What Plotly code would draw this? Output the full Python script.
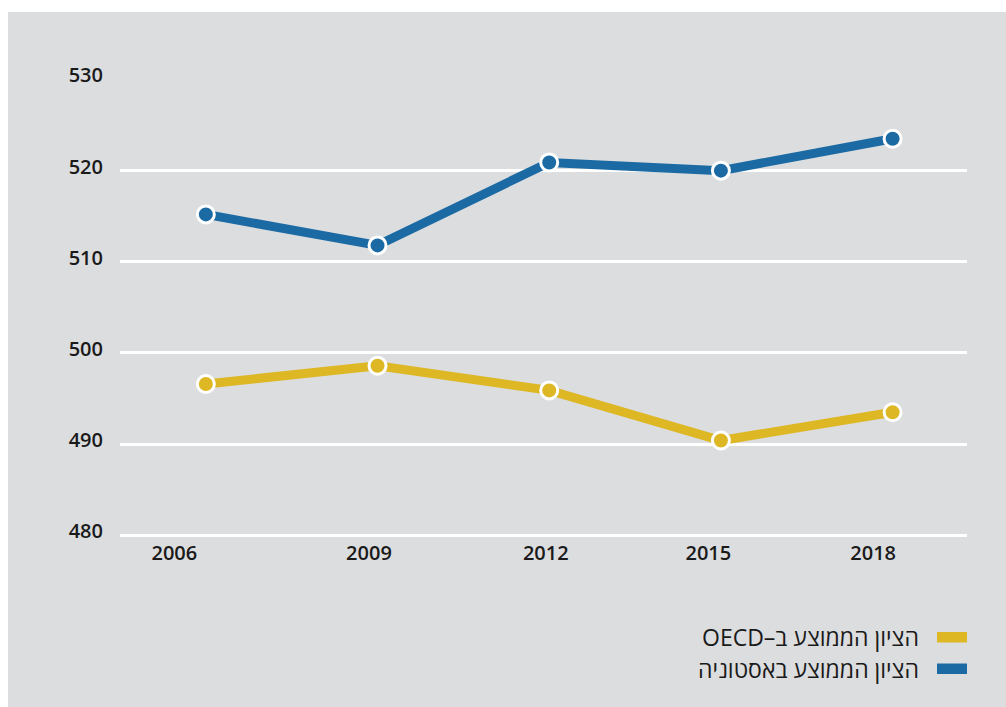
import plotly.graph_objects as go

# PISA average scores
years = [2006, 2009, 2012, 2015, 2018]
estonia = [515.2, 511.8, 520.9, 520.0, 523.5]
oecd = [496.6, 498.6, 495.9, 490.4, 493.5]
y_ticks = [480, 490, 500, 510, 520, 530]
name_oecd = "הציון הממוצע ב–OECD"
name_estonia = "הציון הממוצע באסטוניה"

# per-label horizontal nudge of the year labels (in axis units)
label_nudge = [-0.55, -0.15, -0.06, -0.22, -0.34]

BLUE = "#1b6aa4"
YELLOW = "#ddb724"
BG = "#dcdddf"
INK = "#1a1a1a"
FONT = "Open Sans, Liberation Sans, DejaVu Sans"

W, H = 1006, 707
Y_LO, Y_HI = 479.6, 530.05
L, R, T, B = 120, 39, 79, 168
PW, PH = W - L - R, H - T - B


def px_x(p):
    return (p - L) / PW


def px_y(p):
    return (H - B - p) / PH


def rtl(s):
    return "\u202b" + s + "\u202c"


fig = go.Figure()
for vals, color, name in [(oecd, YELLOW, name_oecd), (estonia, BLUE, name_estonia)]:
    fig.add_trace(go.Scatter(
        x=years, y=vals, mode="lines+markers", name=name, showlegend=False,
        line=dict(color=color, width=9),
        marker=dict(color=color, size=17, line=dict(color="white", width=3)),
        hoverinfo="skip",
    ))

shapes = [
    dict(type="rect", xref="paper", yref="paper", layer="below",
         x0=px_x(8), x1=px_x(W), y0=px_y(H), y1=px_y(12),
         fillcolor=BG, line=dict(width=0)),
]
annotations = []
# legend: swatch on the right, right-to-left text on its left
for i, (color, name) in enumerate([(YELLOW, name_oecd), (BLUE, name_estonia)]):
    top = 632 + i * 31.5
    shapes.append(dict(type="rect", xref="paper", yref="paper",
                       x0=px_x(937), x1=px_x(967), y0=px_y(top + 10.5), y1=px_y(top),
                       fillcolor=color, line=dict(width=0)))
    annotations.append(dict(xref="paper", yref="paper", x=px_x(921), y=px_y(top + 5),
                            xanchor="right", yanchor="middle", showarrow=False,
                            text=rtl(name),
                            font=dict(family=FONT, size=23, color=INK)))

fig.update_layout(
    width=W, height=H,
    margin=dict(l=L, r=R, t=T, b=B, pad=0),
    paper_bgcolor="white", plot_bgcolor=BG,
    showlegend=False,
    shapes=shapes, annotations=annotations,
    font=dict(family=FONT, color=INK),
)
fig.update_xaxes(
    range=[2004.5, 2019.3], showgrid=False, zeroline=False, showline=False,
    tickmode="array", tickvals=[y + d for y, d in zip(years, label_nudge)],
    ticktext=[str(y) for y in years], ticks="",
    tickfont=dict(size=20, weight=600, color=INK), ticklabelstandoff=0,
)
fig.update_yaxes(
    range=[Y_LO, Y_HI], tickmode="array", tickvals=y_ticks,
    ticktext=[str(v) for v in y_ticks], ticks="",
    showgrid=True, gridcolor="white", gridwidth=2.5, zeroline=False, showline=False,
    tickfont=dict(size=20, weight=600, color=INK), ticklabelstandoff=16, ticklabelshift=-4,
)

fig.write_html("out.html")
